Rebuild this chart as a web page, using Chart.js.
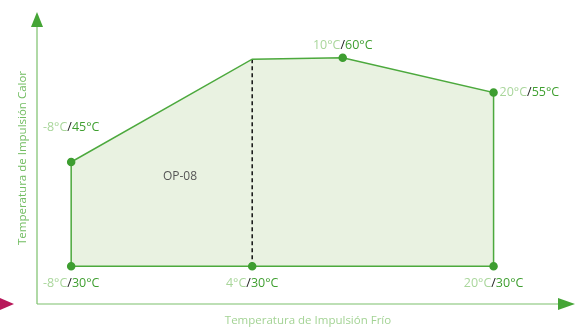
<!DOCTYPE html>
<html lang="es">
<head>
<meta charset="UTF-8">
<title>OP-08</title>
<script src="https://cdn.jsdelivr.net/npm/chart.js"></script>
<style>
  html, body { margin: 0; padding: 0; background: #fff; overflow: hidden; }
  #wrap { width: 581px; height: 330px; position: relative; }
</style>
</head>
<body>
<div id="wrap"><canvas id="chart" width="581" height="330"></canvas></div>
<script>
// envelope corners (cold supply temp °C, hot supply temp °C)
const envX = [-8, -8, 4, 10, 20, 20, 4, -8];
const envY = [30, 45, 59.8, 60, 55, 30, 30, 30];
const markerOn = [1, 1, 0, 1, 1, 1, 1, 0];

// top edge used for the shaded area
const topX = [-8, 4, 10, 20];
const topY = [45, 59.8, 60, 55];

// dashed divider
const dashX = [4, 4];
const dashY = [30, 59.8];

// labelled points and where the text sits
const lblX = [-8, -8, 10, 20, 4, 20];
const lblY = [30, 45, 60, 55, 30, 30];
const lblPos = ['below', 'above', 'above', 'right', 'below', 'below'];

const green = '#4ca93d';
const dot = '#3e9e31';

const pts = (xs, ys) => xs.map((x, i) => ({ x: x, y: ys[i] }));

const decor = {
    id: 'decor',
    afterDraw(chart) {
        const ctx = chart.ctx;
        const xs = chart.scales.x, ys = chart.scales.y;
        ctx.save();

        // axes with arrow heads
        ctx.strokeStyle = '#7cc06c';
        ctx.lineWidth = 1.2;
        ctx.beginPath();
        ctx.moveTo(37, 304); ctx.lineTo(37, 26);
        ctx.moveTo(37, 304); ctx.lineTo(560, 304);
        ctx.stroke();
        ctx.fillStyle = '#45a536';
        ctx.beginPath();
        ctx.moveTo(37, 12); ctx.lineTo(43, 27); ctx.lineTo(31, 27); ctx.closePath();
        ctx.fill();
        ctx.beginPath();
        ctx.moveTo(575, 304); ctx.lineTo(558, 298); ctx.lineTo(558, 310); ctx.closePath();
        ctx.fill();
        ctx.fillStyle = '#b8185a';
        ctx.beginPath();
        ctx.moveTo(14, 304); ctx.lineTo(0, 298); ctx.lineTo(0, 310); ctx.closePath();
        ctx.fill();

        // axis titles
        ctx.font = '11.5px "Open Sans"';
        ctx.fillStyle = '#a3d394';
        ctx.textAlign = 'center';
        ctx.textBaseline = 'middle';
        ctx.fillText('Temperatura de Impulsión Frío', 308, 321);
        ctx.save();
        ctx.translate(23, 158);
        ctx.rotate(-Math.PI / 2);
        ctx.fillStyle = '#72bd62';
        ctx.fillText('Temperatura de Impulsión Calor', 0, 0);
        ctx.restore();

        // zone name
        ctx.font = '12px "Open Sans"';
        ctx.fillStyle = '#555';
        ctx.fillText('OP-08', 180, 177);

        // point labels
        ctx.font = '12.5px "Open Sans"';
        ctx.textBaseline = 'middle';
        lblX.forEach((vx, i) => {
            const a = vx + '°C', b = '/', c = lblY[i] + '°C';
            const wa = ctx.measureText(a).width, wb = ctx.measureText(b).width, wc = ctx.measureText(c).width;
            const w = wa + wb + wc;
            const px = xs.getPixelForValue(vx), py = ys.getPixelForValue(lblY[i]);
            let left, y;
            if (lblPos[i] === 'below') { left = px - w / 2; y = py + 17; }
            else if (lblPos[i] === 'right') { left = px + 6; y = py; }
            else { left = px - w / 2; y = py - (vx === -8 ? 35 : 12); }
            ctx.textAlign = 'left';
            ctx.fillStyle = '#a9d69b'; ctx.fillText(a, left, y);
            ctx.fillStyle = '#222'; ctx.fillText(b, left + wa, y);
            ctx.fillStyle = '#3f9f30'; ctx.fillText(c, left + wa + wb, y);
        });
        ctx.restore();
    }
};

new Chart(document.getElementById('chart'), {
    type: 'scatter',
    data: {
        datasets: [{
            data: pts(topX, topY),
            showLine: true,
            borderWidth: 0,
            pointRadius: 0,
            backgroundColor: '#e9f2e1',
            fill: { value: 30 },
            order: 3
        }, {
            data: pts(dashX, dashY),
            showLine: true,
            borderColor: '#111',
            borderWidth: 1.5,
            borderDash: [4, 3],
            pointRadius: 0,
            fill: false,
            order: 2
        }, {
            data: pts(envX, envY),
            showLine: true,
            borderColor: green,
            borderWidth: 1.5,
            pointRadius: markerOn.map(m => m ? 3.5 : 0),
            pointBackgroundColor: dot,
            pointBorderColor: dot,
            fill: false,
            order: 1
        }]
    },
    options: {
        responsive: false,
        animation: false,
        layout: { padding: { left: 41, right: 12, top: 23, bottom: 29 } },
        plugins: { legend: { display: false }, tooltip: { enabled: false } },
        scales: {
            x: { type: 'linear', min: -10, max: 25, display: false },
            y: { type: 'linear', min: 25, max: 65, display: false }
        }
    },
    plugins: [decor]
});
</script>
</body>
</html>
